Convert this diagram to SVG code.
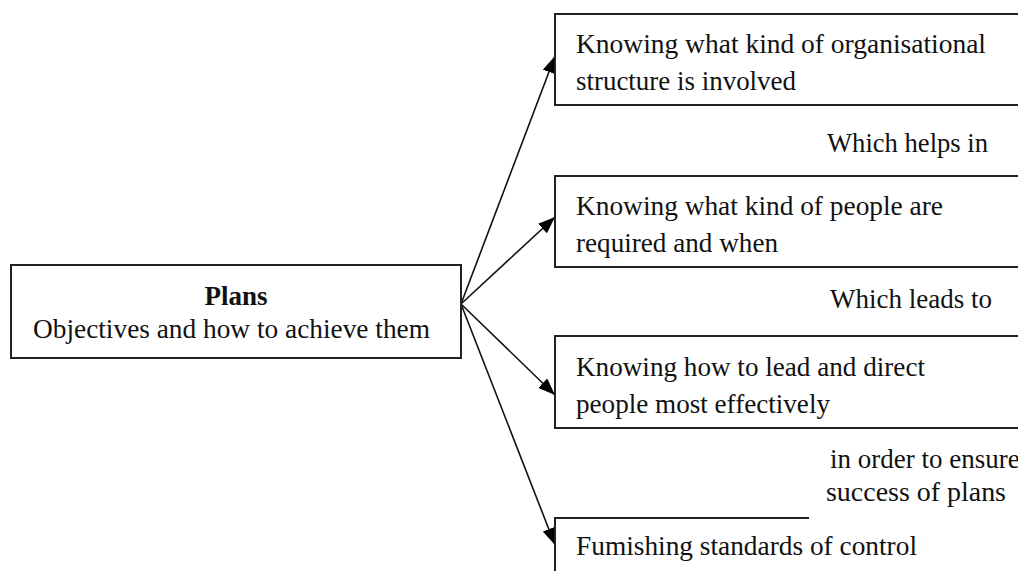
<svg xmlns="http://www.w3.org/2000/svg" width="1018" height="571" viewBox="0 0 1018 571">
<defs>
<marker id="ah" markerUnits="userSpaceOnUse" markerWidth="17" markerHeight="13" viewBox="0 0 17 13" refX="17" refY="6.5" orient="auto">
<path d="M0,0 L17,6.5 L0,13 Z" fill="#000"/>
</marker>
</defs>
<style>
.box{fill:#fff;stroke:#222;stroke-width:2}
.t{font-family:"Liberation Serif","Times New Roman",serif;font-size:27px;fill:#111}
.b{font-weight:bold}
.c{stroke:#111;stroke-width:1.6;fill:none}
</style>
<rect width="1018" height="571" fill="#fff"/>
<g id="connectors">
<line class="c" x1="461" y1="304" x2="555" y2="56" marker-end="url(#ah)"/>
<line class="c" x1="461" y1="304" x2="555" y2="217" marker-end="url(#ah)"/>
<line class="c" x1="461" y1="304" x2="555" y2="395" marker-end="url(#ah)"/>
<line class="c" x1="461" y1="304" x2="555" y2="545" marker-end="url(#ah)"/>
</g>
<g id="plans">
<rect class="box" x="11" y="265" width="450" height="93"/>
<text class="t b" x="236" y="305" text-anchor="middle">Plans</text>
<text class="t" x="33" y="338" textLength="397" lengthAdjust="spacingAndGlyphs">Objectives and how to achieve them</text>
</g>
<g id="structure">
<rect class="box" x="555" y="14" width="480" height="91"/>
<text class="t" x="576" y="53" textLength="410" lengthAdjust="spacingAndGlyphs">Knowing what kind of organisational</text>
<text class="t" x="576" y="90" textLength="220" lengthAdjust="spacingAndGlyphs">structure is involved</text>
</g>
<g id="label-helps">
<text class="t" x="827" y="152" textLength="161" lengthAdjust="spacingAndGlyphs">Which helps in</text>
</g>
<g id="people">
<rect class="box" x="555" y="176" width="480" height="91"/>
<text class="t" x="576" y="215" textLength="367" lengthAdjust="spacingAndGlyphs">Knowing what kind of people are</text>
<text class="t" x="576" y="252" textLength="202" lengthAdjust="spacingAndGlyphs">required and when</text>
</g>
<g id="label-leads">
<text class="t" x="830" y="308" textLength="162" lengthAdjust="spacingAndGlyphs">Which leads to</text>
</g>
<g id="lead">
<rect class="box" x="555" y="336" width="480" height="92"/>
<text class="t" x="576" y="376" textLength="349" lengthAdjust="spacingAndGlyphs">Knowing how to lead and direct</text>
<text class="t" x="576" y="413" textLength="254" lengthAdjust="spacingAndGlyphs">people most effectively</text>
</g>
<g id="label-ensure">
<text class="t" x="830" y="468">in order to ensure</text>
<text class="t" x="826" y="501" textLength="180" lengthAdjust="spacingAndGlyphs">success of plans</text>
</g>
<g id="control">
<path class="box" d="M809,518 L555,518 L555,580"/>
<text class="t" x="576" y="555" textLength="341" lengthAdjust="spacingAndGlyphs">Fumishing standards of control</text>
</g>
</svg>
